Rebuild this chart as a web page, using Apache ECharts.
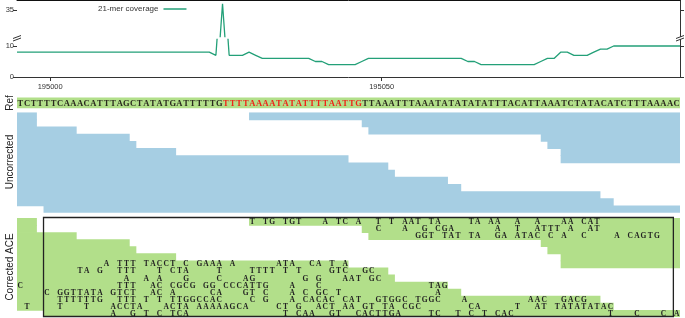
<!DOCTYPE html>
<html>
<head>
<meta charset="utf-8">
<script src="https://cdn.jsdelivr.net/npm/echarts@6/dist/echarts.min.js"></script>
<style>
html, body { margin: 0; padding: 0; background: #fff; }
#main { width: 685px; height: 318px; }
</style>
</head>
<body>
<div id="main"></div>
<script>
// genome window shown (one unit = one base)
var winStart = 194995;
var winEnd = 195095;
var posTicks = [195000, 195050];

// 21-mer coverage, one value per base from winStart
var coverage = [
  8, 8, 8, 8, 8, 8, 8, 8, 8, 8,
  8, 8, 8, 8, 8, 8, 8, 8, 8, 8,
  8, 8, 8, 8, 8, 8, 8, 8, 8, 8,
  7, 37, 7, 7, 7, 8, 7, 6,
  6, 6, 6, 6, 6, 6, 6,
  5, 5,
  4, 4, 4, 4, 4,
  5,
  6, 6, 6, 6, 6, 6, 6, 6, 6, 6, 6, 6, 6, 6, 6,
  5, 5,
  4, 4, 4, 4, 4, 4, 4, 4, 4,
  5, 6, 6, 8, 8, 7, 7, 7, 8, 9, 9,
  10, 10, 10, 10, 10, 10, 10, 10, 10, 10, 10
];
var covTicksLow = [0, 10];
var covTicksHigh = [35];

// reference sequence and the red stretch in it (base indexes)
var refSeq = 'TCTTTTCAAACATTTAGCTATATGATTTTTG' + 'TTTTAAAATATATTTTAATTG' +
             'TTAAATTTAAATATATATATTTACATTAAATCTATACATCTTTAAAAC';
var refRed = [31, 51];

// reads: [row, start, end] (same layout in both panels)
var reads = [
  [0, 194995, 194998], [0, 195030, 195095],
  [1, 194995, 194998], [1, 195047, 195095],
  [2, 194995, 195004], [2, 195048, 195095],
  [3, 194995, 195012], [3, 195074, 195095],
  [4, 194995, 195013], [4, 195075, 195095],
  [5, 194995, 195019], [5, 195077, 195095],
  [6, 194995, 195045], [6, 195077, 195095],
  [7, 194995, 195051],
  [8, 194995, 195052],
  [9, 194995, 195060],
  [10, 194995, 195062],
  [11, 194995, 195083],
  [12, 194995, 195085],
  [13, 194999, 195095]
];
var rowCount = 14;

// bases shown on corrected reads: [row, first base index, letters]
var correctedBases = [
  [0, 35, 'T TG TGT   A TC A  T T AAT TA    TA AA  A  A   AA CAT'],
  [1, 54, 'C   A  G CGA      A  T  ATTT A  AT'],
  [2, 60, 'GGT TAT TA  GA ATAC C A  C    A CAGTG'],
  [6, 13, 'A TTT TACCT C GAAA A      ATA  CA T A'],
  [7, 9, 'TA G  TTT   T CTA    T    TTTT T T    GTC  GC'],
  [8, 16, 'A  A A   G    C   AG       G G   AAT GC'],
  [9, 0, 'C'],
  [9, 15, 'TTT  AC CGCG GG CCCATTG   A   C'],
  [9, 62, 'TAG'],
  [10, 4, 'C GGTTATA GTCT  AC A     CA   GT C   A C GC T'],
  [10, 63, 'A'],
  [11, 6, 'TTTTTTG  TTT T T TTGGCCAC    C G   A CACAC CAT  GTGGC TGGC   A'],
  [11, 77, 'AAC  GACG'],
  [12, 1, 'T'], [12, 6, 'T'], [12, 10, 'T'],
  [12, 14, 'ACCTA   ACTA AAAAAGCA    CT G  ACT AA GT TA CGC'],
  [12, 68, 'CA     T  AT TATATATAC'],
  [13, 14, 'A  G T C TCA'],
  [13, 40, 'T CAA  GT  CACTTGA    TC  T C T CAC'],
  [13, 89, 'T   C   C A']
];

// highlighted box on the corrected panel
var boxSpan = [194999, 195094];

var covData = coverage.map(function (v, i) { return [winStart + i, v]; });

var refMarks = [];
for (var i = 0; i < refSeq.length; i++) {
  refMarks.push({ value: [winStart + i + 0.5, 0.5], ch: refSeq[i],
    red: i >= refRed[0] && i <= refRed[1] });
}

var letterMarks = [];
correctedBases.forEach(function (g) {
  for (var k = 0; k < g[2].length; k++) {
    if (g[2][k] !== ' ') {
      letterMarks.push({ value: [winStart + g[1] + k + 0.5, g[0] + 0.5], ch: g[2][k] });
    }
  }
});

var chart = echarts.init(document.getElementById('main'));
var L = 17, R = 5;
var ink = '#333';
var lineColor = '#23a078';
var blue = '#a6cee3';
var green = '#b2df8a';

function hiddenX(g) {
  return { type: 'value', gridIndex: g, min: winStart, max: winEnd, show: false };
}
function hiddenY(g, max) {
  return { type: 'value', gridIndex: g, min: 0, max: max, inverse: true, show: false };
}
function covY(g, min, max, ticks, right) {
  return {
    type: 'value', gridIndex: g, min: min, max: max,
    position: right ? 'right' : 'left',
    axisLine: { show: !!right, onZero: false, lineStyle: { color: ink, width: 1 } },
    axisTick: { show: true, length: 4, customValues: ticks, lineStyle: { color: ink } },
    axisLabel: { show: !right, customValues: ticks, fontSize: 7.5, margin: 3,
      color: ink, fontFamily: 'Liberation Sans' },
    splitLine: { show: false }
  };
}

// rows overlap a little so blocks of reads read as solid areas
function readBars(color) {
  return function (params, api) {
    var a = api.coord([api.value(1), api.value(0)]);
    var b = api.coord([api.value(2), api.value(0) + 1]);
    return { type: 'rect',
      shape: { x: a[0], y: a[1], width: b[0] - a[0], height: b[1] - a[1] + 0.8 },
      style: { fill: color } };
  };
}

function breakMark(cx, cy) {
  return { type: 'group', children: [
    { type: 'polygon', shape: { points: [[cx - 4, cy + 1.5], [cx + 4, cy - 1.5], [cx + 4, cy + 1], [cx - 4, cy + 4]] },
      style: { fill: '#fff' } },
    { type: 'line', shape: { x1: cx - 4, y1: cy + 1.5, x2: cx + 4, y2: cy - 1.5 }, style: { stroke: ink, lineWidth: 1 } },
    { type: 'line', shape: { x1: cx - 4, y1: cy + 4, x2: cx + 4, y2: cy + 1 }, style: { stroke: ink, lineWidth: 1 } }
  ] };
}

function sideLabel(text, y) {
  return { type: 'text', x: 10, y: y, rotation: Math.PI / 2,
    style: { text: text, font: '10px "Liberation Sans"', fill: '#222', align: 'center', verticalAlign: 'middle' } };
}

chart.setOption({
  animation: false,
  legend: {
    data: ['21-mer coverage'], left: 93, top: 0, align: 'right',
    icon: 'rect', itemWidth: 23, itemHeight: 1.5, itemGap: 4,
    textStyle: { fontSize: 8, color: ink, fontFamily: 'Liberation Sans' }
  },
  grid: [
    { left: L, right: R, top: 0, height: 36.5 },
    { left: L, right: R, top: 39.5, height: 37.5 },
    { left: L, right: R, top: 97.5, height: 10.8 },
    { left: L, right: R, top: 112.2, height: 100.5 },
    { left: L, right: R, top: 218, height: 99 }
  ],
  xAxis: [
    { type: 'value', gridIndex: 0, min: winStart, max: winEnd, position: 'top',
      axisLine: { show: true, onZero: false, lineStyle: { color: '#111', width: 1 } },
      axisTick: { show: false }, axisLabel: { show: false }, splitLine: { show: false } },
    { type: 'value', gridIndex: 1, min: winStart, max: winEnd, position: 'bottom',
      axisLine: { show: true, onZero: false, lineStyle: { color: ink, width: 1 } },
      axisTick: { show: true, length: 4, customValues: posTicks, lineStyle: { color: ink } },
      axisLabel: { customValues: posTicks, fontSize: 7.5, margin: 6, color: ink, fontFamily: 'Liberation Sans',
        formatter: function (v) { return String(v); } },
      splitLine: { show: false } },
    hiddenX(2), hiddenX(3), hiddenX(4)
  ],
  yAxis: [
    covY(0, 26.45, 38.2, covTicksHigh, false),
    covY(0, 26.45, 38.2, covTicksHigh, true),
    covY(1, 0, 12.1, covTicksLow, false),
    covY(1, 0, 12.1, covTicksLow, true),
    hiddenY(2, 1),
    hiddenY(3, rowCount),
    hiddenY(4, rowCount)
  ],
  graphic: [
    breakMark(L, 37),
    breakMark(685 - R, 37),
    sideLabel('Ref', 103),
    sideLabel('Uncorrected', 162),
    sideLabel('Corrected ACE', 267)
  ],
  series: [
    { name: '21-mer coverage', type: 'line', xAxisIndex: 0, yAxisIndex: 0, data: covData,
      symbol: 'none', clip: true, itemStyle: { color: lineColor },
      lineStyle: { color: lineColor, width: 1.3 } },
    { name: '21-mer coverage', type: 'line', xAxisIndex: 1, yAxisIndex: 2, data: covData,
      symbol: 'none', clip: true, itemStyle: { color: lineColor },
      lineStyle: { color: lineColor, width: 1.3 } },
    { type: 'custom', xAxisIndex: 2, yAxisIndex: 4, data: [[0, winStart, winEnd]],
      renderItem: function (params, api) {
        var a = api.coord([api.value(1), 0]);
        var b = api.coord([api.value(2), 1]);
        return { type: 'rect', shape: { x: a[0], y: a[1], width: b[0] - a[0], height: b[1] - a[1] },
          style: { fill: green } };
      } },
    { type: 'custom', xAxisIndex: 2, yAxisIndex: 4, data: refMarks, z: 3,
      renderItem: function (params, api) {
        var p = api.coord([api.value(0), api.value(1)]);
        var d = refMarks[params.dataIndex];
        return { type: 'text', x: p[0], y: p[1] + 0.5,
          style: { text: d.ch, font: 'bold 8.5px "Liberation Serif"', fill: d.red ? '#ee2418' : '#2a2a1e',
            align: 'center', verticalAlign: 'middle' } };
      } },
    { type: 'custom', xAxisIndex: 3, yAxisIndex: 5, data: reads, clip: true,
      renderItem: readBars(blue) },
    { type: 'custom', xAxisIndex: 4, yAxisIndex: 6, data: reads, clip: true,
      renderItem: readBars(green) },
    { type: 'custom', xAxisIndex: 4, yAxisIndex: 6, data: letterMarks, z: 3,
      renderItem: function (params, api) {
        var p = api.coord([api.value(0), api.value(1)]);
        return { type: 'text', x: p[0], y: p[1] + 0.5,
          style: { text: letterMarks[params.dataIndex].ch, font: 'bold 7.5px "Liberation Serif"',
            fill: '#222', align: 'center', verticalAlign: 'middle' } };
      } },
    { type: 'custom', xAxisIndex: 4, yAxisIndex: 6, data: [boxSpan], z: 4,
      renderItem: function (params, api) {
        var a = api.coord([api.value(0), 0]);
        var b = api.coord([api.value(1), rowCount]);
        return { type: 'rect',
          shape: { x: a[0], y: a[1] - 0.5, width: b[0] - a[0], height: b[1] - a[1] },
          style: { fill: 'none', stroke: '#222', lineWidth: 1.3 } };
      } }
  ]
});
</script>
</body>
</html>
